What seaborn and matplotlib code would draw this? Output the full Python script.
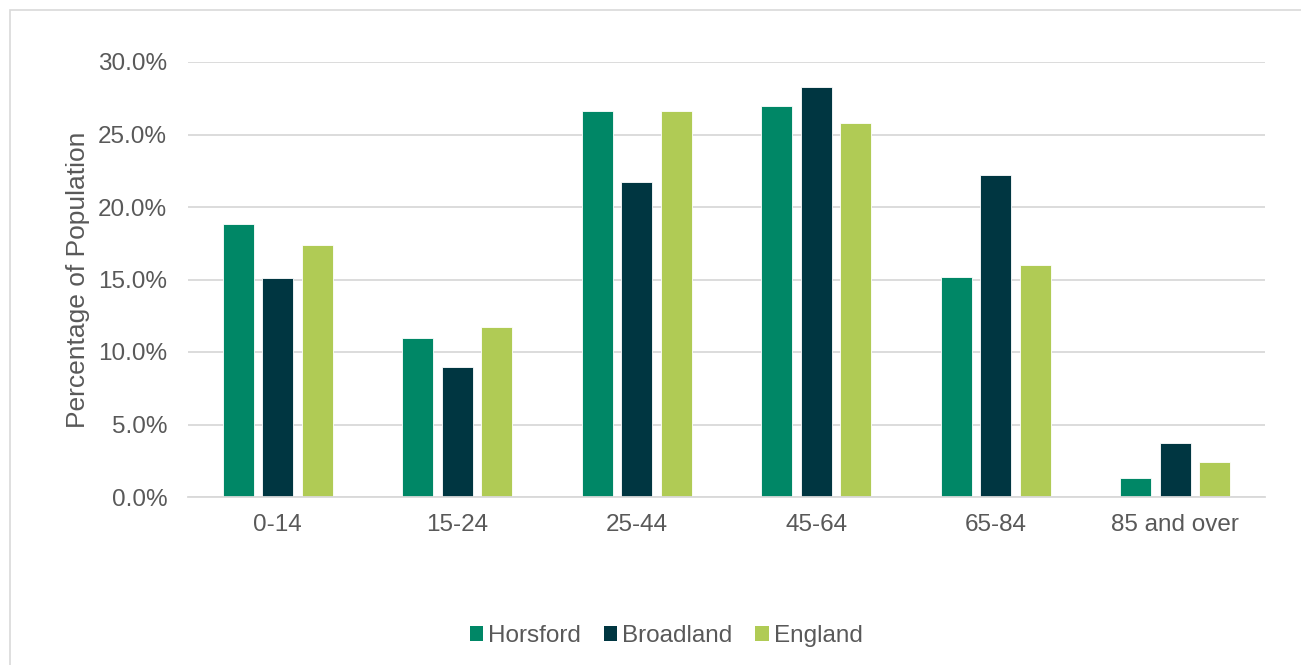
import matplotlib
matplotlib.use("Agg")
import matplotlib.pyplot as plt
import seaborn as sns
import pandas as pd
from matplotlib.patches import Rectangle, Patch
from matplotlib.ticker import FuncFormatter

categories = ["0-14", "15-24", "25-44", "45-64", "65-84", "85 and over"]
series = ["Horsford", "Broadland", "England"]
horsford = [18.8, 11.0, 26.6, 27.0, 15.2, 1.3]
broadland = [15.1, 9.0, 21.7, 28.3, 22.2, 3.7]
england = [17.4, 11.7, 26.6, 25.8, 16.0, 2.4]
colors = ["#008766", "#003641", "#B0CB55"]

rows = []
for name, vals in zip(series, [horsford, broadland, england]):
    for c, v in zip(categories, vals):
        rows.append({"Age": c, "Area": name, "Value": v})
df = pd.DataFrame(rows)

sns.set_theme(style="white")
plt.rcParams['font.family'] = ['Liberation Sans', 'DejaVu Sans']
text_color = "#595959"

fig = plt.figure(figsize=(13.01, 6.65), dpi=100)
ax = fig.add_axes([188/1301, 1-497/665, (1265-188)/1301, (497-62)/665])

sns.barplot(data=df, x="Age", y="Value", hue="Area", order=categories,
            hue_order=series, palette=colors, saturation=1, width=0.66, gap=0.21,
            edgecolor="white", linewidth=0.6, ax=ax, legend=False)

ax.set_ylim(0, 30)
ax.set_xlim(-0.5, 5.5)
ax.set_yticks([0, 5, 10, 15, 20, 25, 30])
ax.yaxis.set_major_formatter(FuncFormatter(lambda v, p: f"{v:.1f}%"))
ax.grid(axis="y", color="#D9D9D9", linewidth=1.3)
ax.set_axisbelow(True)
for s in ["top", "right", "left"]:
    ax.spines[s].set_visible(False)
ax.spines["bottom"].set_color("#D9D9D9")
ax.spines["bottom"].set_linewidth(1.3)
ax.tick_params(axis="both", length=0, labelsize=17.5, colors=text_color)
ax.tick_params(axis="y", pad=15)
ax.tick_params(axis="x", pad=12)
ax.set_xlabel("")
ax.set_ylabel("Percentage of Population", fontsize=19, color=text_color, labelpad=6)

handles = [Patch(facecolor=c, edgecolor="none") for c in colors]
fig.legend(handles, series, loc="center", bbox_to_anchor=(666/1301, 1-636/665),
           ncol=3, frameon=False, fontsize=17.5, handlelength=0.55, handleheight=0.55,
           handletextpad=0.2, columnspacing=0.95, labelcolor=text_color)

fig.patches.append(Rectangle((10/1301, -0.1), 1.2, 1-10/665+0.1, transform=fig.transFigure,
                             fill=False, edgecolor="#D9D9D9", linewidth=1.2))

fig.savefig("out.png", dpi=100)
